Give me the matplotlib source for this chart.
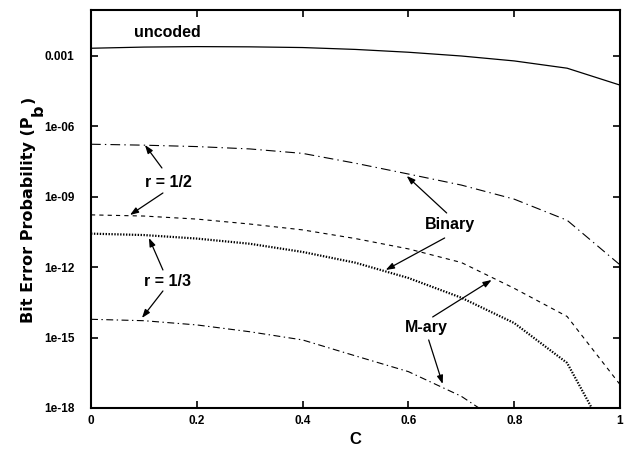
import matplotlib
matplotlib.use("Agg")
import matplotlib.pyplot as plt
import numpy as np

plt.rcParams['font.family'] = ['Liberation Sans', 'DejaVu Sans']
plt.rcParams['lines.scale_dashes'] = False

C = [0.0, 0.1, 0.2, 0.3, 0.4, 0.5, 0.6, 0.7, 0.8, 0.9, 1.0]
log_uncoded = [-2.67, -2.62, -2.60, -2.61, -2.64, -2.72, -2.84, -3.00, -3.21, -3.52, -4.24]
log_binary_r12 = [-6.76, -6.80, -6.86, -6.96, -7.15, -7.57, -8.03, -8.50, -9.10, -10.0, -11.9]
log_mary_r12 = [-9.77, -9.82, -9.95, -10.16, -10.41, -10.78, -11.22, -11.80, -12.90, -14.10, -17.0]
log_binary_r13 = [-10.57, -10.63, -10.78, -11.00, -11.35, -11.81, -12.46, -13.30, -14.38, -16.08, -20.2]
log_mary_r13 = [-14.22, -14.28, -14.46, -14.75, -15.10, -15.78, -16.45, -17.50, -19.0, -21.0, -24.0]

xticks = [0, 0.2, 0.4, 0.6, 0.8, 1]
xticklabels = ["0", "0.2", "0.4", "0.6", "0.8", "1"]
yticks = [1e-18, 1e-15, 1e-12, 1e-9, 1e-6, 1e-3]
yticklabels = ["1e-18", "1e-15", "1e-12", "1e-09", "1e-06", "0.001"]

W, H = 626, 449

def p(v):
    return 10.0 ** np.array(v)

fig = plt.figure(figsize=(W / 100, H / 100), dpi=100)
ax = fig.add_axes([91/W, 1-408/H, (620-91)/W, (408-10)/H])

ax.plot(C, p(log_uncoded), color='black', lw=0.9, linestyle='-')
ax.plot(C, p(log_binary_r12), color='black', lw=0.8, linestyle=(0, (7, 3, 1, 3)))
ax.plot(C, p(log_mary_r12), color='black', lw=0.8, linestyle=(0, (3, 3)))
ax.plot(C, p(log_binary_r13), color='black', lw=1.6, linestyle=(0, (1, 1.1)))
ax.plot(C, p(log_mary_r13), color='black', lw=0.8, linestyle=(0, (5, 2.5, 1, 2.5)))

ax.set_yscale('log')
ax.set_xlim(0, 1)
ax.set_ylim(1e-18, 10 ** (-1.04))
ax.set_xticks(xticks)
ax.set_xticklabels(xticklabels)
ax.set_yticks(yticks)
ax.set_yticklabels(yticklabels)
ax.minorticks_off()
ax.tick_params(direction='in', length=5, width=1.2, top=True, right=True,
               labelsize=8.5)
ax.tick_params(axis='y', pad=12)
ax.tick_params(axis='x', pad=5)
for lab in ax.get_xticklabels() + ax.get_yticklabels():
    lab.set_fontweight('bold')
for s in ax.spines.values():
    s.set_linewidth(1.5)

ax.set_xlabel("C", fontsize=12, fontweight='bold', labelpad=4)

# y label in gnuplot style: "Bit Error Probability (P" + subscript "b" + ")"
ykw = dict(rotation=90, rotation_mode='anchor', ha='left', va='baseline',
           fontsize=11.5, fontweight='bold', family=['DejaVu Sans'])
renderer = fig.canvas.get_renderer()
t1 = fig.text(33 / W, 1 - 323 / H, "Bit Error Probability (P", **ykw)
top = t1.get_window_extent(renderer=renderer).y1
t2 = fig.text(43 / W, (top + 1) / H, "b", **ykw)
top2 = t2.get_window_extent(renderer=renderer).y1
fig.text(33 / W, (top2 + 1) / H, ")", **ykw)

def lg(v):
    return 10.0 ** v

tkw = dict(fontsize=11.5, fontweight='bold', ha='center', va='center')
ax.text(0.145, lg(-1.98), "uncoded", **tkw)
ax.text(0.146, lg(-8.37), "r = 1/2", **tkw)
ax.text(0.144, lg(-12.59), "r = 1/3", **tkw)
ax.text(0.678, lg(-10.2), "Binary", **tkw)
ax.text(0.634, lg(-14.55), "M-ary", **tkw)

akw = dict(arrowstyle='-|>,head_length=0.5,head_width=0.18', color='black', lw=0.9,
           shrinkA=0, shrinkB=0)

def px2d(xp, yp):
    return ((xp - 91) / 529.5, 10 ** (-3 - (yp - 56) / 23.47))

arrows = [
    ((162, 168), (145, 145)),
    ((163, 193), (130, 215)),
    ((163, 270), (149, 238)),
    ((163, 291), (142, 318)),
    ((447, 213), (407, 176)),
    ((445, 238), (386, 270)),
    ((433, 317), (492, 280)),
    ((429, 340), (443, 384)),
]
for (a, b) in arrows:
    ax.annotate("", xy=px2d(*b), xytext=px2d(*a), arrowprops=akw)

fig.savefig("out.png", dpi=100)
